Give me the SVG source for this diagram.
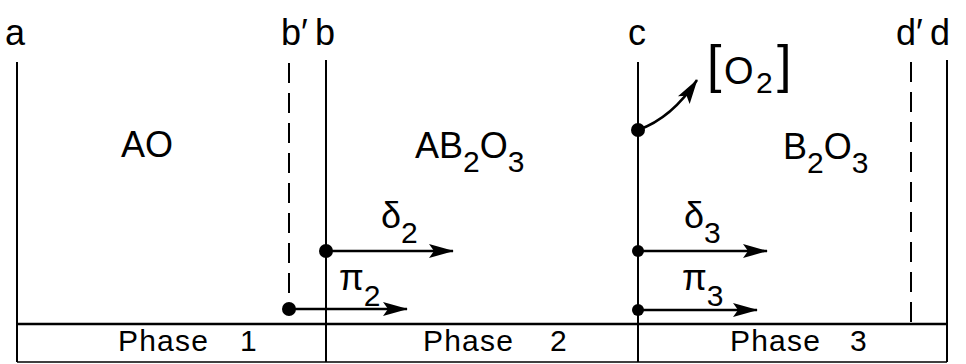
<svg xmlns="http://www.w3.org/2000/svg" width="966" height="364" viewBox="0 0 966 364">
<defs>
<style>
.ln{stroke:#000;stroke-width:2;fill:none}
.dash{stroke:#000;stroke-width:2;fill:none;stroke-dasharray:20 10}
.t{font-family:"Liberation Sans",Arial,sans-serif;fill:#000}
.lab{font-size:36px}
.ph{font-size:30px;letter-spacing:1.2px}
.ar{stroke:#000;stroke-width:2.5;fill:none;marker-end:url(#ah)}
</style>
<marker id="ah" markerUnits="userSpaceOnUse" markerWidth="26" markerHeight="16" refX="24" refY="8" orient="auto">
<path d="M0,1 L25,8 L0,15 L5,8 z" fill="#000"/>
</marker>
</defs>
<rect width="966" height="364" fill="#fff"/>

<g id="labels-top">
<text class="t lab" x="15" y="45" text-anchor="middle">a</text>
<text class="t lab" x="281" y="45">b′</text>
<text class="t lab" x="325" y="45" text-anchor="middle">b</text>
<text class="t lab" x="637" y="45" text-anchor="middle">c</text>
<text class="t lab" x="896" y="45">d′</text>
<text class="t lab" x="940" y="45" text-anchor="middle">d</text>
</g>

<g id="boundaries">
<line class="ln" x1="17" y1="62" x2="17" y2="362"/>
<line class="dash" x1="289" y1="63" x2="289" y2="309"/>
<line class="ln" x1="326" y1="60" x2="326" y2="362"/>
<line class="ln" x1="638" y1="62" x2="638" y2="362"/>
<line class="dash" x1="911" y1="62" x2="911" y2="324"/>
<line class="ln" x1="947" y1="60" x2="947" y2="362"/>
</g>

<g id="phase-bar">
<line x1="17" y1="324" x2="947" y2="324" stroke="#000" stroke-width="2.5"/>
<line x1="17" y1="362" x2="947" y2="362" stroke="#000" stroke-width="1.5"/>
<text class="t ph" x="118" y="351">Phase</text><text class="t ph" x="240" y="351">1</text>
<text class="t ph" x="423" y="351">Phase</text><text class="t ph" x="550" y="351">2</text>
<text class="t ph" x="730" y="351">Phase</text><text class="t ph" x="850" y="351">3</text>
</g>

<g id="phase1"><text class="t lab" x="121" y="157">AO</text></g>
<g id="phase2"><text class="t lab" x="415" y="158">AB<tspan dy="14" font-size="30">2</tspan><tspan dy="-14">O</tspan><tspan dy="14" font-size="30">3</tspan></text></g>
<g id="phase3"><text class="t lab" x="783" y="159">B<tspan dy="14" font-size="30">2</tspan><tspan dy="-14">O</tspan><tspan dy="14" font-size="30">3</tspan></text></g>

<g id="o2">
<text class="t" x="707" y="82" font-size="52">[</text>
<text class="t" x="724" y="84" font-size="38">O</text>
<text class="t" x="756" y="93" font-size="30">2</text>
<text class="t" x="777" y="82" font-size="52">]</text>
</g>

<g id="connectors">
<path class="ar" d="M638,130 Q672,118 697,80"/>
<line class="ar" x1="326" y1="251" x2="453" y2="251"/>
<line class="ar" x1="289" y1="309" x2="407" y2="309"/>
<line class="ar" x1="638" y1="251" x2="767" y2="251"/>
<line class="ar" x1="638" y1="310" x2="757" y2="310"/>
<circle cx="638" cy="130" r="7"/>
<circle cx="326" cy="251" r="7"/>
<circle cx="289" cy="309" r="7"/>
<circle cx="638" cy="251" r="6"/>
<circle cx="638" cy="310" r="6"/>
</g>

<g id="arrow-labels">
<text class="t lab" x="381" y="228">δ<tspan dy="15" font-size="30">2</tspan></text>
<text class="t lab" x="339" y="290">π<tspan dy="16" font-size="30">2</tspan></text>
<text class="t lab" x="684" y="228">δ<tspan dy="15" font-size="30">3</tspan></text>
<text class="t lab" x="682" y="290">π<tspan dy="16" font-size="30">3</tspan></text>
</g>
</svg>
